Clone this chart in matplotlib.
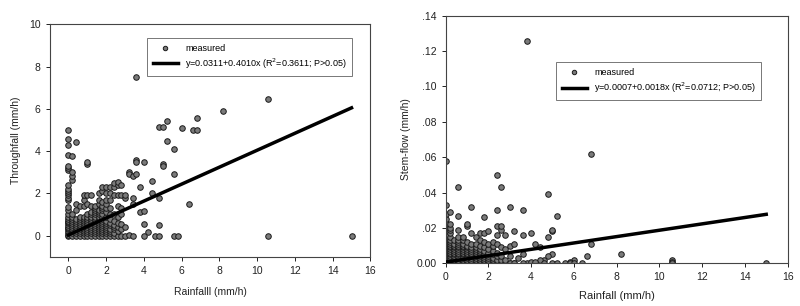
import numpy as np
import matplotlib.pyplot as plt

plt.rcParams['font.family'] = ['Liberation Sans', 'DejaVu Sans']

# ---- Throughfall vs rainfall (left) ----
# dense cluster, one list of y values per rainfall column
tf_cols = {
    0.0: [0, .05, .1, .2, .3, .35, .4, .5, .6, .65, .7, .8, .9, 1.0, 1.2, 1.35, 1.7, 1.8,
          1.9, 2.0, 2.1, 2.2, 2.4, 3.1, 3.2, 3.3, 3.8, 4.3, 4.55, 5.0],
    0.2: [0, .1, .2, .3, .4, .5, .6, .7, .8, .9, 1.0, 2.65, 2.8, 3.0, 3.75],
    0.4: [0, .1, .2, .3, .4, .5, .6, .7, .8, 1.2, 1.5, 4.45],
    0.6: [0, .1, .2, .3, .4, .5, .6, .7, .8, .9, 1.4],
    0.8: [0, .1, .2, .3, .4, .5, .6, .7, .8, .9, 1.4, 1.7, 1.9],
    1.0: [0, .1, .2, .3, .4, .5, .6, .7, .8, .9, 1.0, 1.5, 1.9, 3.4, 3.5],
    1.2: [0, .1, .2, .3, .4, .5, .6, .7, .8, .9, 1.0, 1.1, 1.4, 1.9],
    1.4: [0, .1, .2, .3, .4, .5, .6, .7, .8, .9, 1.0, 1.1, 1.2, 1.3, 1.4],
    1.6: [0, .1, .2, .3, .4, .5, .6, .7, .8, .9, 1.0, 1.1, 1.2, 1.5, 1.7, 2.0],
    1.8: [0, .1, .2, .3, .4, .5, .6, .7, .8, .9, 1.0, 1.2, 1.3, 1.4, 1.6, 2.1, 2.3],
    2.0: [0, .1, .2, .3, .4, .5, .6, .7, .9, 1.1, 1.3, 1.5, 1.7, 2.0, 2.3],
    2.2: [0, .1, .2, .3, .5, .6, .8, 1.0, 1.3, 1.7, 2.0, 2.3],
    2.4: [0, .1, .3, .4, .5, .7, 1.0, 1.9, 2.3, 2.5],
    2.6: [0, .2, .4, .6, .9, 1.4, 1.9, 2.4, 2.55],
    2.8: [0, .3, .55, 1.0, 1.3, 1.9, 2.4],
    3.0: [0, .4, 1.8, 1.9],
    3.2: [.05, 3.0, 2.9],
    3.4: [0, 1.5, 1.8, 2.8],
}
tf_x_out = [3.6, 10.6, 8.2, 6.8, 6.6, 6.8, 6.0, 5.2, 4.8, 5.0, 5.2, 5.6, 5.0, 5.0, 4.0,
            3.6, 3.6, 5.6, 3.6, 3.8, 4.4, 4.4, 4.8, 6.4, 3.8, 4.0, 4.0, 4.8, 4.2, 4.0,
            4.6, 4.8, 5.6, 5.8, 10.6, 15.0]
tf_y_out = [7.5, 6.45, 5.9, 5.55, 5.0, 5.0, 5.1, 5.4, 5.15, 5.15, 4.5, 4.1, 3.4, 3.3, 3.5,
            3.6, 3.5, 2.9, 2.9, 2.3, 2.6, 2.0, 1.8, 1.5, 1.1, 1.15, 0.55, 0.5, 0.15, 0.0,
            0.0, 0.0, 0.0, 0.0, 0.0, 0.0]
tf_a, tf_b = 0.0311, 0.4010

# ---- Stem-flow vs rainfall (right) ----
sf_cols = {
    0.0: [0, .001, .002, .003, .004, .005, .006, .007, .008, .009, .010, .011, .012, .013,
          .014, .015, .016, .018, .020, .022, .023, .025, .028, .033, .058],
    0.2: [0, .001, .002, .003, .004, .005, .006, .007, .008, .009, .010, .011, .012,
          .013, .015, .017, .019, .020, .022, .029],
    0.4: [0, .001, .002, .003, .004, .005, .006, .007, .008, .009, .010, .011, .013],
    0.6: [0, .001, .002, .003, .004, .005, .006, .007, .008, .009, .010, .011, .012,
          .013, .015, .019, .027, .043],
    0.8: [0, .001, .002, .003, .004, .005, .006, .007, .008, .009, .010, .011, .013, .015],
    1.0: [0, .001, .002, .003, .004, .005, .006, .007, .008, .009, .010, .012, .021, .022],
    1.2: [0, .001, .002, .003, .004, .005, .006, .007, .008, .009, .011, .017, .032],
    1.4: [0, .001, .002, .003, .004, .005, .006, .007, .008, .009, .011, .015],
    1.6: [0, .001, .002, .003, .004, .005, .006, .007, .008, .010, .013, .017],
    1.8: [0, .001, .002, .003, .004, .005, .006, .007, .009, .012, .017, .026],
    2.0: [0, .001, .002, .003, .004, .005, .006, .008, .011, .018],
    2.2: [0, .001, .002, .003, .005, .007, .010, .012],
    2.4: [0, .002, .004, .006, .011, .016, .021, .030, .050],
    2.6: [0, .002, .004, .009, .019, .021, .043],
    2.8: [0, .002, .008, .016],
    3.0: [0, .004, .010, .032],
    3.2: [0, .011, .018],
}
sf_x_out = [3.8, 6.8, 3.6, 3.6, 4.0, 5.0, 5.0, 4.8, 4.8, 5.2, 4.2, 4.4, 6.8, 8.2, 6.6,
            10.6, 10.6, 10.6, 15.0, 6.0, 5.8, 4.6, 4.4, 5.0, 3.4, 3.6, 3.8, 4.0, 4.2,
            4.6, 4.8, 5.0, 5.2, 5.6, 5.8, 6.0, 6.4, 3.0, 3.2, 3.6]
sf_y_out = [.126, .062, .030, .016, .017, .018, .019, .039, .015, .027, .011, .009, .011,
            .0055, .004, .002, .001, 0, 0, .002, .001, .002, .002, .005, .003, .005, 0,
            .001, .001, 0, .004, 0, 0, 0, 0, 0, 0, 0, 0, 0]
sf_a, sf_b = 0.0007, 0.0018


def flatten(cols, x_out, y_out):
    xs, ys = [], []
    for x, yl in cols.items():
        xs += [x] * len(yl)
        ys += yl
    return np.array(xs + x_out), np.array(ys + y_out)


def panel(ax, x, y, a, b, label):
    ax.scatter(x, y, s=16, c='#7a7a7a', edgecolors='#1a1a1a', linewidths=0.7,
               label='measured', zorder=2)
    xx = np.array([0, 15])
    ax.plot(xx, a + b * xx, color='black', lw=2.5, label=label, zorder=3)
    for s in ax.spines.values():
        s.set_color('#444444')
        s.set_linewidth(0.8)
    ax.tick_params(labelsize=7.5, colors='#222222', length=3, width=0.7)
    ax.set_xticks(np.arange(0, 17, 2))
    leg = ax.legend(fontsize=6.5, frameon=True, fancybox=False, edgecolor='#555555',
                    handlelength=2.8, borderpad=0.6, labelspacing=0.4,
                    markerscale=0.8)
    leg.get_frame().set_linewidth(0.7)
    return leg


fig = plt.figure(figsize=(8, 3.06), dpi=100)

ax1 = fig.add_axes([0.062, 0.161, 0.401, 0.7596])
x1, y1 = flatten(tf_cols, tf_x_out, tf_y_out)
leg1 = panel(ax1, x1, y1, tf_a, tf_b,
             'y=0.0311+0.4010x (R$^2$=0.3611; P>0.05)')
ax1.set_xlim(-1, 16)
ax1.set_ylim(-1, 10)
ax1.set_yticks(np.arange(0, 11, 2))
ax1.set_xlabel('Rainfalll (mm/h)', fontsize=7.5, color='#222222', labelpad=8)
ax1.set_ylabel('Throughfall (mm/h)', fontsize=7.5, color='#222222', labelpad=6)
leg1.set_bbox_to_anchor((0.29, 0.7, 0.62, 0.26), transform=ax1.transAxes)
leg1._loc = 2

ax2 = fig.add_axes([0.557, 0.1395, 0.4275, 0.809])
x2, y2 = flatten(sf_cols, sf_x_out, sf_y_out)
leg2 = panel(ax2, x2, y2, sf_a, sf_b,
             'y=0.0007+0.0018x (R$^2$=0.0712; P>0.05)')
ax2.set_xlim(0, 16)
ax2.set_ylim(0, 0.14)
ax2.set_yticks(np.arange(0, 0.141, 0.02))
ax2.set_yticklabels(['0.00', '.02', '.04', '.06', '.08', '.10', '.12', '.14'])
ax2.set_xlabel('Rainfall (mm/h)', fontsize=8, color='#222222', labelpad=6)
ax2.set_ylabel('Stem-flow (mm/h)', fontsize=7.5, color='#222222', labelpad=4)
leg2.set_bbox_to_anchor((0.31, 0.58, 0.6, 0.25), transform=ax2.transAxes)
leg2._loc = 2

fig.savefig('out.png', dpi=100)
